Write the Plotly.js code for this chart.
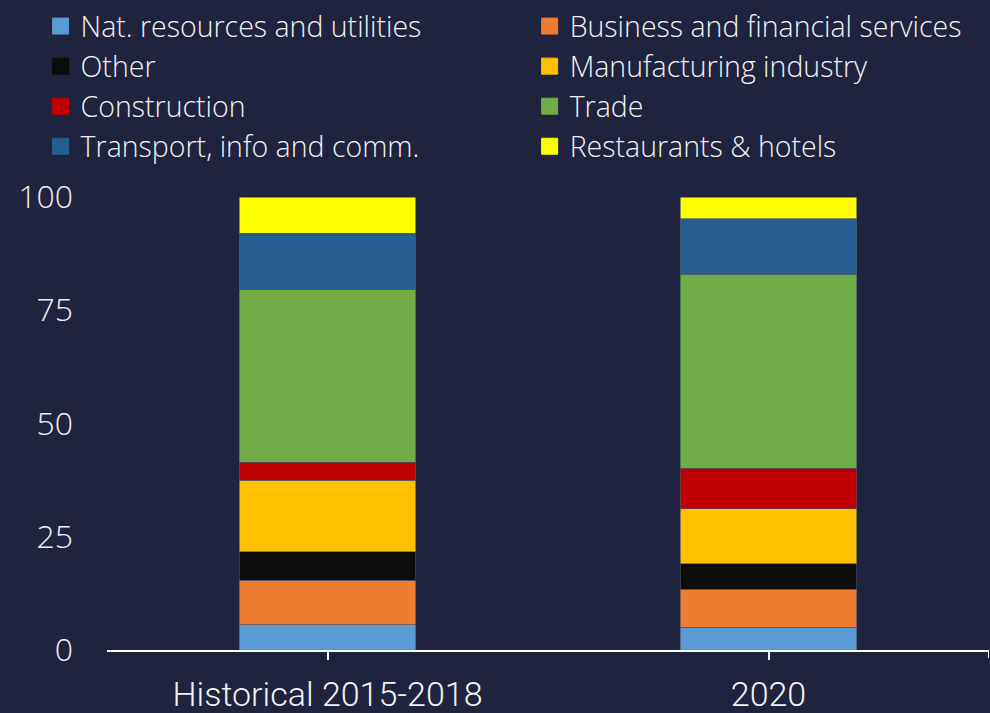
<!DOCTYPE html>
<html>
<head>
<meta charset="utf-8">
<script src="https://cdn.plot.ly/plotly-3.0.1.min.js"></script>
<style>
  html, body { margin: 0; padding: 0; background: #1F233D; }
  #chart { width: 990px; height: 713px; }
</style>
</head>
<body>
<div id="chart"></div>
<script>
// Categories (x axis)
const categories = ["Historical 2015-2018", "2020"];

// Sector names (stack order bottom -> top)
const sectors = [
  "Nat. resources and utilities",
  "Business and financial services",
  "Other",
  "Manufacturing industry",
  "Construction",
  "Trade",
  "Transport, info and comm.",
  "Restaurants & hotels"
];

// Shares (%) per sector, [Historical, 2020]
const natResources   = [5.6, 5.0];
const business       = [9.8, 8.4];
const other          = [6.3, 5.6];
const manufacturing  = [15.8, 12.2];
const construction   = [4.0, 8.9];
const trade          = [38.1, 42.9];
const transport      = [12.4, 12.2];
const restaurants    = [8.0, 4.8];

// Y tick values
const yTicks = [0, 25, 50, 75, 100];

const seriesValues = [natResources, business, other, manufacturing, construction, trade, transport, restaurants];
const colors = ["#5B9BD5", "#ED7D31", "#0D0D0D", "#FFC000", "#C00000", "#70AD47", "#255E91", "#FFFF00"];
// legend column assignment: left column gets items 0,2,4,6 ; right column 1,3,5,7
const legendFor = ["legend", "legend2", "legend", "legend2", "legend", "legend2", "legend", "legend2"];

const traces = [];
sectors.forEach((name, i) => {
  traces.push({
    type: "bar",
    name: name,
    x: categories,
    y: seriesValues[i],
    marker: { color: colors[i], line: { color: "rgba(70,80,100,0.8)", width: 0.8 } },
    showlegend: false,
    hoverinfo: "name+y"
  });
});
// legend entries (square swatches)
sectors.forEach((name, i) => {
  traces.push({
    type: "scatter",
    mode: "markers",
    name: name,
    x: [categories[0]],
    y: [null],
    marker: { symbol: "square", size: 16, color: colors[i], line: { color: colors[i], width: 1 } },
    legend: legendFor[i],
    showlegend: true,
    hoverinfo: "skip"
  });
});

const legendFont = { family: "Open Sans, sans-serif", size: 28.5, color: "#F2F2F2", weight: 300 };

const layout = {
  width: 990,
  height: 713,
  paper_bgcolor: "#1F233D",
  plot_bgcolor: "#1F233D",
  barmode: "stack",
  bargap: 0.6,
  margin: { l: 107, r: 1, t: 197, b: 63, autoexpand: false },
  showlegend: true,
  legend: {
    xref: "container", yref: "container",
    x: 0.041, y: 0.9985, xanchor: "left", yanchor: "top",
    orientation: "v", traceorder: "normal",
    bgcolor: "rgba(0,0,0,0)", borderwidth: 0,
    font: legendFont, itemsizing: "trace"
  },
  legend2: {
    xref: "container", yref: "container",
    x: 0.535, y: 0.9985, xanchor: "left", yanchor: "top",
    orientation: "v", traceorder: "normal",
    bgcolor: "rgba(0,0,0,0)", borderwidth: 0,
    font: legendFont, itemsizing: "trace"
  },
  xaxis: {
    type: "category",
    range: [-0.5, 1.5],
    showline: true, linecolor: "#FFFFFF", linewidth: 2,
    ticks: "outside", ticklen: 8, tickwidth: 2, tickcolor: "#FFFFFF",
    showgrid: false, zeroline: false,
    tickangle: 0,
    automargin: false,
    tickfont: { family: "Roboto, sans-serif", size: 34, color: "#F2F2F2", weight: 300 },
    ticklabelstandoff: 5
  },
  yaxis: {
    range: [0, 100],
    tickvals: yTicks,
    ticktext: yTicks.map(String),
    showline: false, showgrid: false, zeroline: false,
    automargin: false,
    ticks: "",
    tickfont: { family: "Open Sans, sans-serif", size: 32, color: "#EDEDED", weight: 300 },
    ticklabelstandoff: 33
  },
  shapes: [{
    type: "line", xref: "x", yref: "paper",
    x0: 1.5, x1: 1.5, y0: 0, y1: -8 / 453,
    line: { color: "#FFFFFF", width: 2 }
  }]
};

Plotly.newPlot("chart", traces, layout, { displayModeBar: false, staticPlot: true });
</script>
</body>
</html>
